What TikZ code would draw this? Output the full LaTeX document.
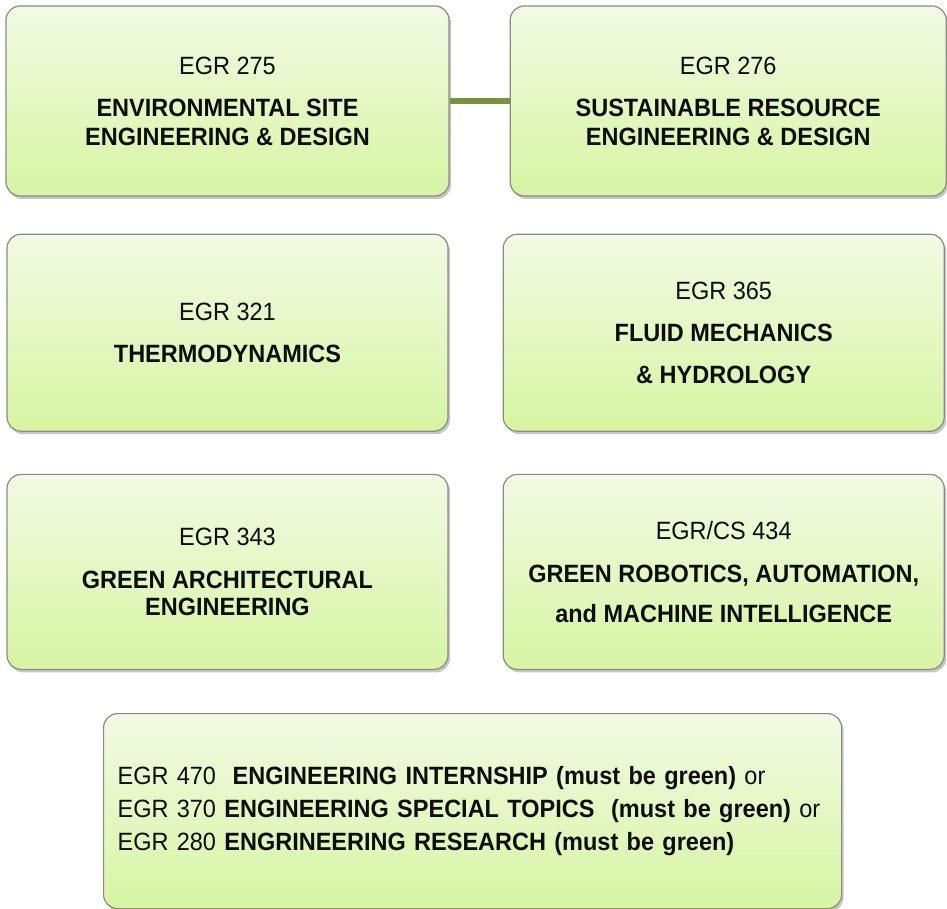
\documentclass[tikz,border=0pt]{standalone}
\usepackage{fontspec}
\setmainfont[FakeStretch=0.94]{Liberation Sans}
\usetikzlibrary{positioning, shadows, calc}

\definecolor{boxtop}{HTML}{F2FAE4}
\definecolor{boxbottom}{HTML}{D7F5A2}
\definecolor{boxline}{HTML}{8A8C84}
\definecolor{linkgreen}{HTML}{77933C}

\tikzset{
  course/.style={rectangle, rounded corners=14pt, draw=boxline, line width=1.2pt,
    top color=boxtop, bottom color=boxbottom, align=center, text=black!95,
    drop shadow={shadow xshift=2pt, shadow yshift=-3pt, opacity=0.45},
    font=\fontsize{25}{29}\selectfont, inner sep=0pt},
  link/.style={draw=linkgreen, line width=6pt},
}

\begin{document}
\begin{tikzpicture}[x=1pt, y=1pt]
  \useasboundingbox (0,0) rectangle (947,908);

  % first row
  \node[course, minimum width=443pt, minimum height=190pt] (egr275) at (227.5,807)
    {EGR 275\\[13pt]\textbf{ENVIRONMENTAL SITE}\\\textbf{ENGINEERING \& DESIGN}};
  \node[course, minimum width=436pt, minimum height=190pt] (egr276) [right=60pt of egr275]
    {EGR 276\\[13pt]\textbf{SUSTAINABLE RESOURCE}\\\textbf{ENGINEERING \& DESIGN}};

  % second row
  \node[course, minimum width=441pt, minimum height=197pt] (egr321) [below=37pt of egr275]
    {EGR 321\\[13pt]\textbf{THERMODYNAMICS}};
  \node[course, minimum width=441pt, minimum height=197pt] (egr365) [right=54pt of egr321]
    {EGR 365\\[13pt]\textbf{FLUID MECHANICS}\\[13pt]\textbf{\& HYDROLOGY}};

  % third row
  \node[course, minimum width=441pt, minimum height=195pt] (egr343) [below=42pt of egr321]
    {EGR 343\\[14pt]\textbf{GREEN ARCHITECTURAL}\\[-2pt]\textbf{ENGINEERING}};
  \node[course, minimum width=441pt, minimum height=195pt] (egr434) [right=54pt of egr343]
    {EGR/CS 434\\[14pt]\textbf{GREEN ROBOTICS, AUTOMATION,}\\[11pt]\textbf{and MACHINE INTELLIGENCE}};

  % elective box
  \node[course, anchor=north, minimum height=195pt, text width=710pt, inner xsep=14pt, align=left]
    (elective) at ([xshift=-3pt, yshift=-43pt]$(egr343.south)!0.5!(egr434.south)$)
    {EGR 470\ \ \textbf{ENGINEERING INTERNSHIP (must be green)} or\\[4pt]
     EGR 370 \textbf{ENGINEERING SPECIAL TOPICS\ \ (must be green)} or\\[4pt]
     EGR 280 \textbf{ENGRINEERING RESEARCH (must be green)}};

  \path[link] (egr275) -- (egr276);
\end{tikzpicture}
\end{document}
